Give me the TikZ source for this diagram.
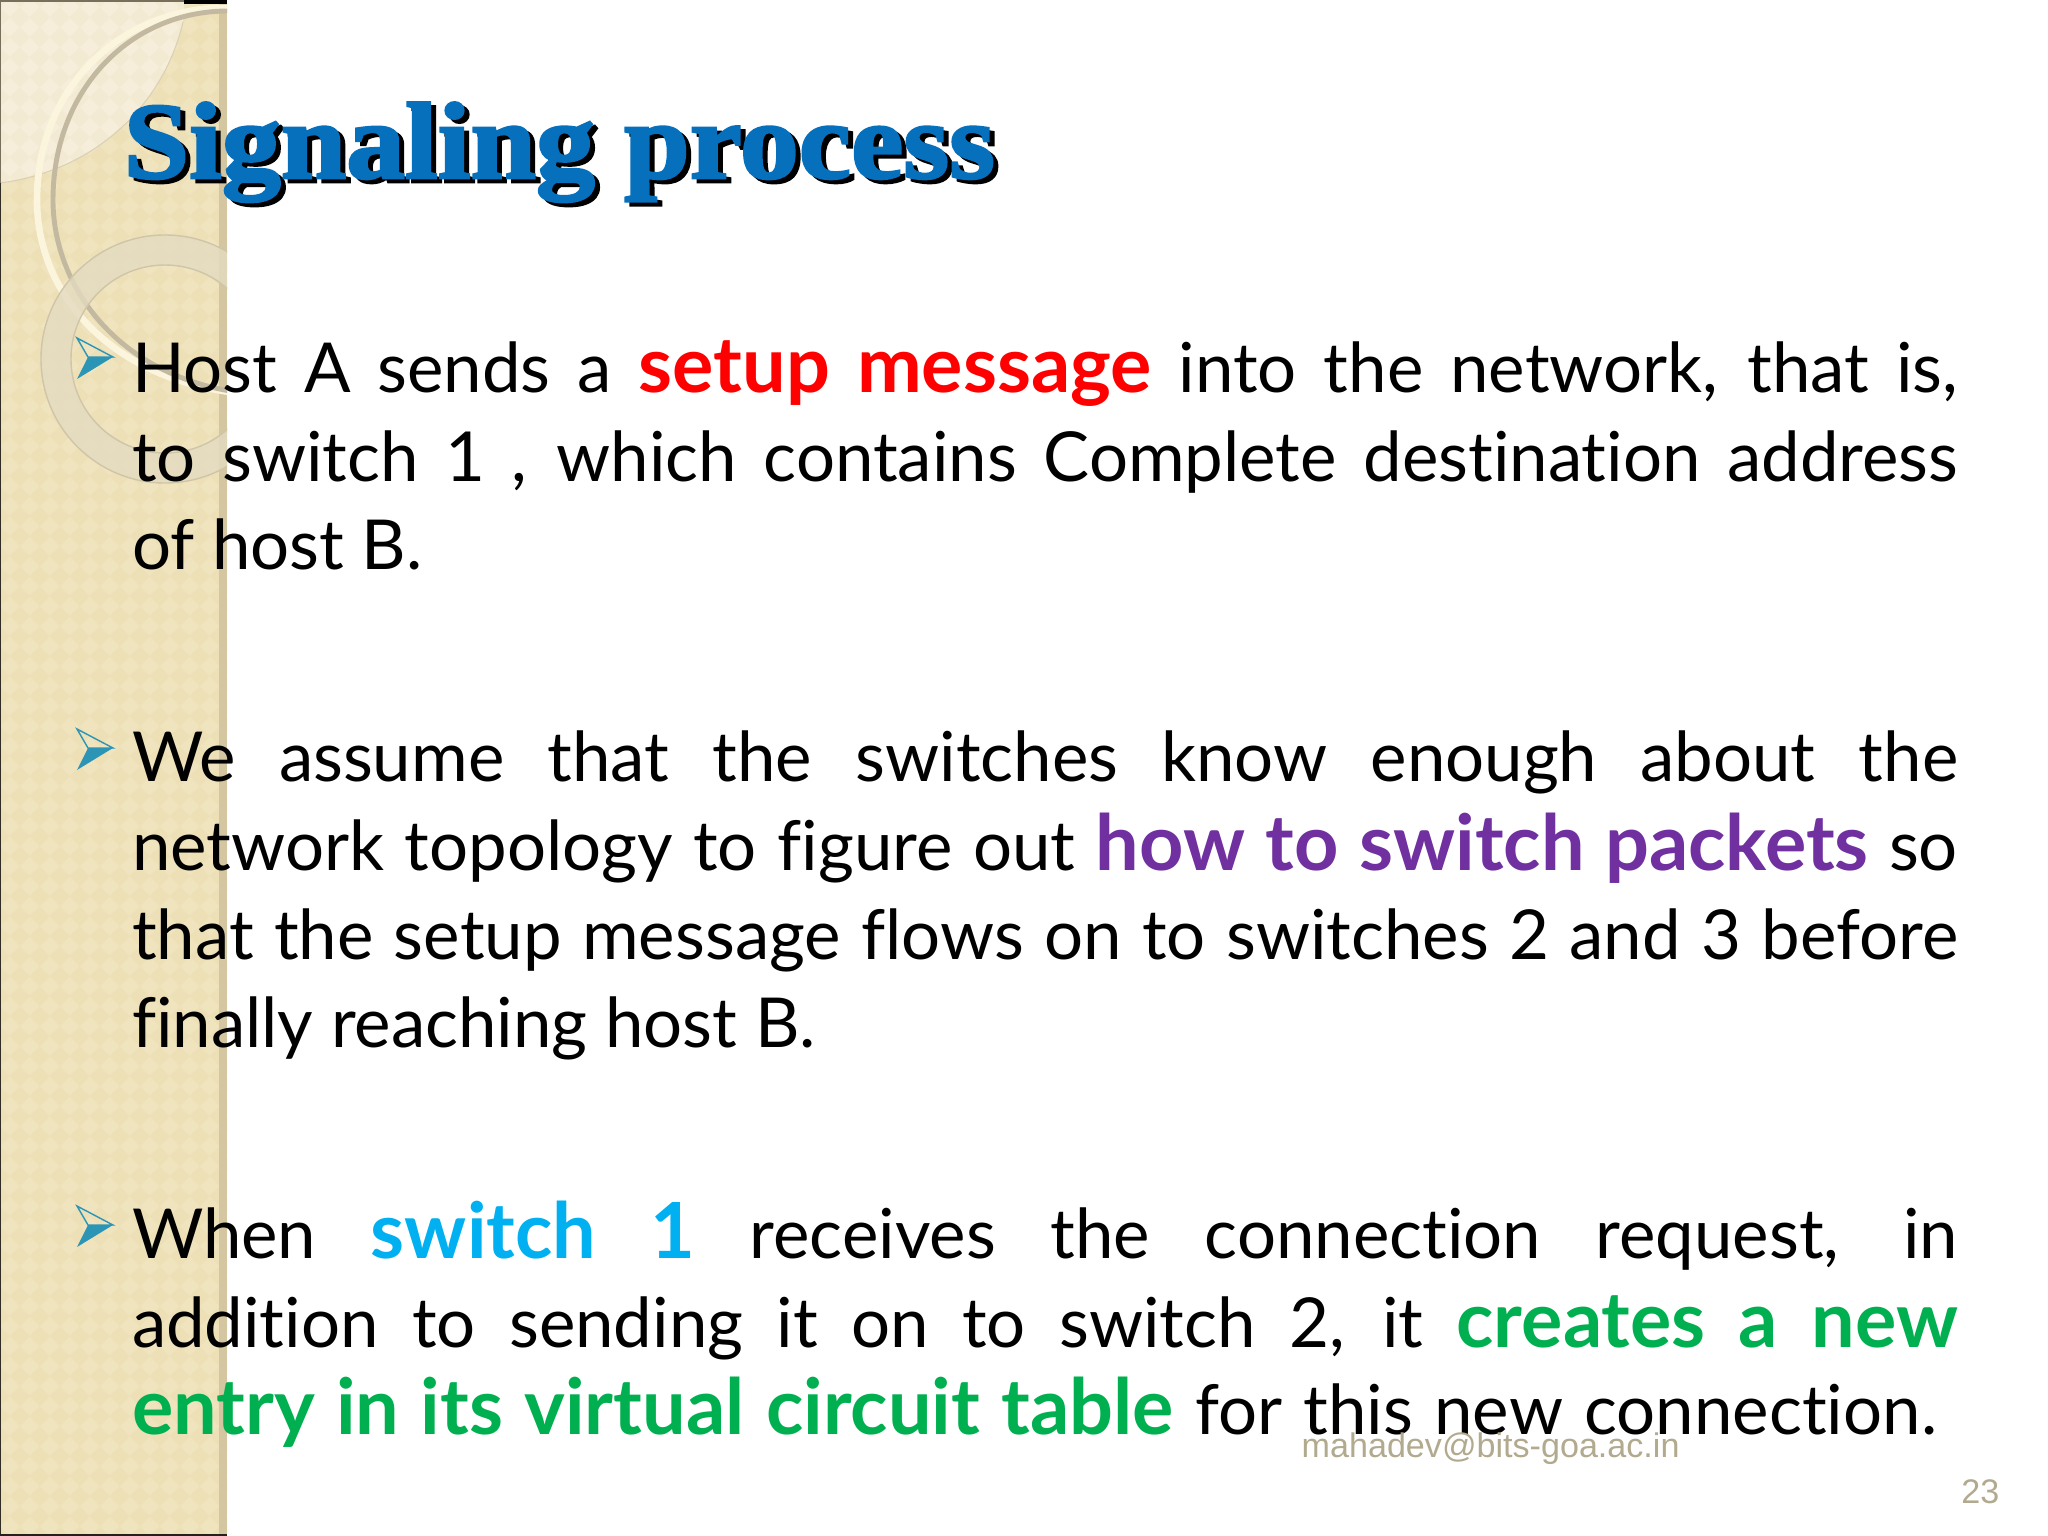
\documentclass[tikz,border=0pt]{standalone}
\usepackage{fontspec}
\setmainfont{Lato}[Ligatures={TeX,NoCommon}]
\newfontfamily\titlefont{Liberation Serif}[FakeBold=2.4,FakeStretch=1.08]
\newfontfamily\footfont{Liberation Sans}
\usetikzlibrary{patterns}
\definecolor{band}{HTML}{EDDFB6}
\definecolor{bandchk}{HTML}{F0E4BF}
\definecolor{bandlight}{HTML}{F3EAD3}
\definecolor{bandlightchk}{HTML}{F6EEDB}
\definecolor{stripe}{HTML}{D3C6A0}
\definecolor{creamline}{HTML}{FCF5DE}
\definecolor{grayline}{HTML}{C2B9A0}
\definecolor{ringfill}{HTML}{E4DAC0}
\definecolor{ringedge}{HTML}{CFC5A8}
\definecolor{titleblue}{HTML}{0670BC}
\definecolor{msgred}{HTML}{FF0000}
\definecolor{msgpurple}{HTML}{7030A0}
\definecolor{msgcyan}{HTML}{00B0F0}
\definecolor{msggreen}{HTML}{00B050}
\definecolor{foot}{HTML}{B2AA8E}
\definecolor{arrowdark}{HTML}{2C95B5}
\pgfdeclarepatternformonly{diachk}{\pgfqpoint{0pt}{0pt}}{\pgfqpoint{5.6pt}{5.6pt}}{\pgfqpoint{5.6pt}{5.6pt}}{
  \pgfpathmoveto{\pgfqpoint{2.8pt}{0pt}}
  \pgfpathlineto{\pgfqpoint{5.6pt}{2.8pt}}
  \pgfpathlineto{\pgfqpoint{2.8pt}{5.6pt}}
  \pgfpathlineto{\pgfqpoint{0pt}{2.8pt}}
  \pgfpathclose
  \pgfusepath{fill}
}
\newlength{\linew}
\setlength{\linew}{18.25cm}
\newcommand{\jl}[1]{\hbox to \linew{\spaceskip=0.25em plus 1fil\relax #1}}
\newcommand{\jlw}[2]{\hbox to #1{\spaceskip=0.25em plus 1fil\relax #2}}
\newcommand{\hl}[2]{{\color{#1}\bfseries\fontsize{22}{22}\selectfont #2}}
\tikzset{
  textline/.style={anchor=base west,inner sep=0pt,outer sep=0pt,font=\fontsize{19.6}{21}\selectfont,text=black},
  titletext/.style={anchor=base west,inner sep=0pt,font=\titlefont\bfseries\fontsize{31}{31}\selectfont},
  foottext/.style={inner sep=0pt,text=foot,font=\footfont\fontsize{9.7}{9.7}\selectfont}
}
\begin{document}
\begin{tikzpicture}[x=0.01cm,y=-0.01cm]
\useasboundingbox (0,0) rectangle (2048,1536);
\fill[white] (0,0) rectangle (2048,1536);
\begin{scope}
\clip (0,0) rectangle (227,1536);
\fill[band] (0,0) rectangle (227,1536);
\fill[pattern=diachk,pattern color=bandchk] (0,0) rectangle (227,1536);
\fill[bandlight] (0,0) -- (184,0) -- (183,22) .. controls (165,100) and (100,170) .. (0,183) -- cycle;
\fill[pattern=diachk,pattern color=bandlightchk] (0,0) -- (184,0) -- (183,22) .. controls (165,100) and (100,170) .. (0,183) -- cycle;
\draw[ringedge!70!bandlight,line width=0.3pt] (183,22) .. controls (165,100) and (100,170) .. (0,183);
\fill[stripe] (219,0) rectangle (227,1536);
\draw[creamline,line width=1.9pt] (230,8) .. controls (125,5) and (37,85) .. (37,200) .. controls (37,290) and (105,375) .. (230,392);
\draw[grayline,line width=1.4pt] (230,11) .. controls (130,10) and (53,90) .. (53,200) .. controls (53,280) and (110,370) .. (230,391);
\fill[ringfill,opacity=0.8,even odd rule] (165,359) circle (124) (165,359) circle (94);
\draw[ringedge,line width=0.4pt] (165,359) circle (124) (165,359) circle (94);
\end{scope}
\fill[black!50!band] (0,0) rectangle (1.5,183);
\fill[black!80!band] (0,183) rectangle (1.5,1536);
\fill[black!50!band] (0,0) rectangle (184,1.5);
\fill[black] (184,0) rectangle (227,4);
\fill[black!85!band] (0,1533.5) rectangle (227,1536);
\foreach \yy in {357,748,1225}{
  \fill[arrowdark] (77,\yy+22) -- (113,\yy) -- (88,\yy) -- cycle;
  \draw[arrowdark,line width=0.4pt,line join=miter] (77,\yy-19) -- (113,\yy) -- (88,\yy) -- cycle;
}
\node[titletext,text=black] (titleshadow) at (128,182) {Signaling process};
\node[titletext,text=titleblue] (title) at (123,178) {Signaling process};
\node[textline] (l1) at (132,392) {\jl{Host A sends a \hl{msgred}{setup message} into the network, that is,}};
\node[textline] (l2) at (132,481) {\jl{to switch 1 , which contains Complete destination address}};
\node[textline] (l3) at (132,569) {of host B.};
\node[textline] (l4) at (132,781) {\jl{We assume that the switches know enough about the}};
\node[textline] (l5) at (132,870) {\jl{network topology to figure out \hl{msgpurple}{how to switch packets} so}};
\node[textline] (l6) at (132,959) {\jl{that the setup message flows on to switches 2 and 3 before}};
\node[textline] (l7) at (132,1047) {finally reaching host B.};
\node[textline] (l8) at (132,1258) {\jl{When \hl{msgcyan}{switch 1} receives the connection request, in}};
\node[textline] (l9) at (132,1347) {\jl{addition to sending it on to switch 2, it \hl{msggreen}{creates a new}}};
\node[textline] (l10) at (132,1434) {\jlw{18.04cm}{\hl{msggreen}{entry in its virtual circuit table} for this new connection.}};
\node[foottext,anchor=base west] (mail) at (1301,1457) {mahadev@bits-goa.ac.in};
\node[foottext,anchor=base east] (page) at (2000,1503) {23};
\end{tikzpicture}
\end{document}
